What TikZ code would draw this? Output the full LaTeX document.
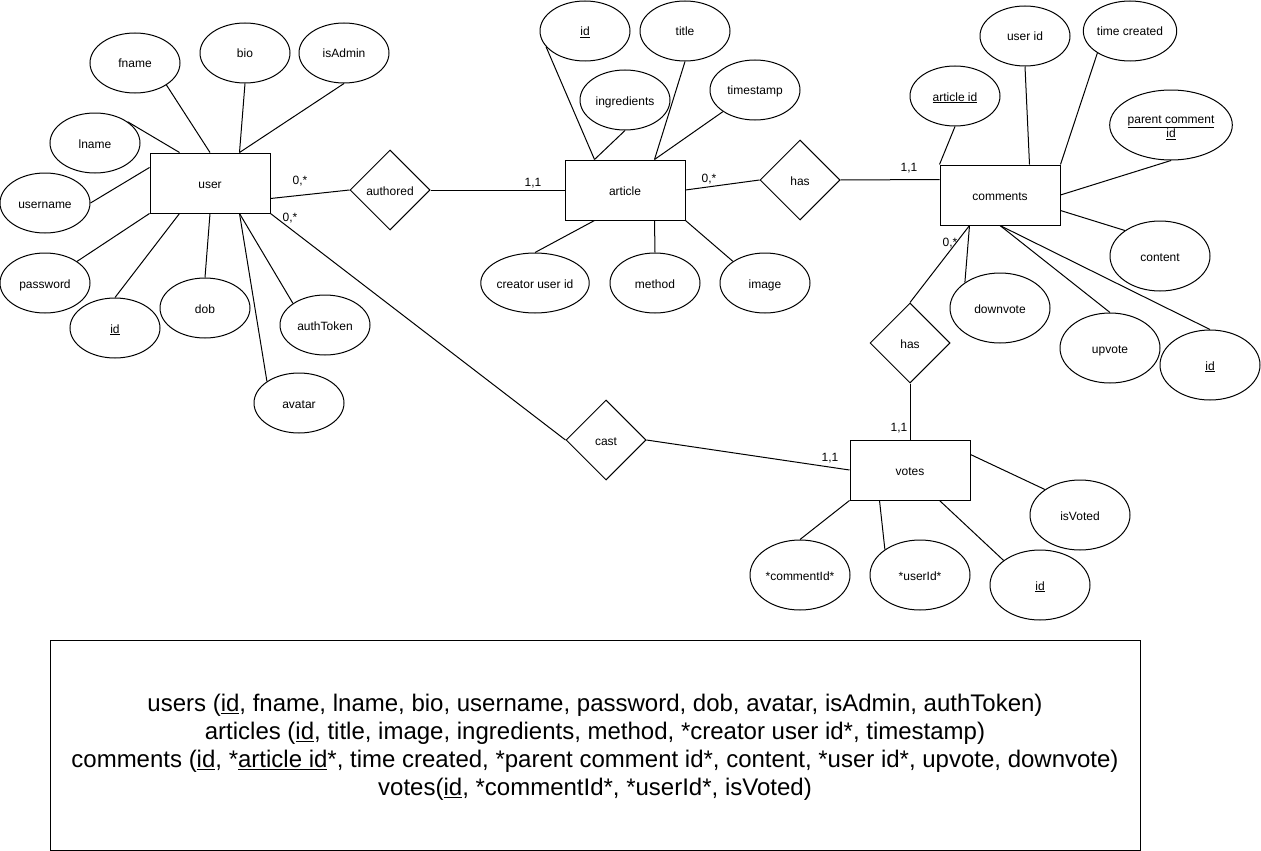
\documentclass[tikz,border=0pt]{standalone}
\usepackage{fontspec}
\setmainfont{Liberation Sans}
\usetikzlibrary{shapes.geometric,calc}
\begin{document}
\begin{tikzpicture}[x=1pt,y=-1pt,line width=1pt,
  txt/.style={font=\fontsize{12}{14}\selectfont,text height=12.8pt,text depth=2.8pt},
  ent/.style={draw,rectangle,minimum width=120pt,minimum height=60pt,inner sep=0pt,txt},
  attr/.style={draw,ellipse,minimum width=90pt,minimum height=60pt,inner sep=0pt,txt},
  bigattr/.style={attr,minimum width=100pt,minimum height=70pt},
  rel/.style={draw,diamond,aspect=1,minimum width=80pt,minimum height=80pt,inner sep=0pt,txt},
  card/.style={inner sep=0pt,txt}]
\useasboundingbox (0,0) rectangle (1261,851);

% user
\node[ent] (user) at (210,183) {user};
\node[attr] (fname) at (135,63) {fname};
\node[attr] (bio) at (245,53) {bio};
\node[attr] (isadmin) at (344,53) {isAdmin};
\node[attr] (lname) at (95,143) {lname};
\node[attr] (username) at (45,203) {username};
\node[attr] (password) at (45,283) {password};
\node[attr] (uid) at (115,328) {\underline{id}};
\node[attr] (dob) at (205,308) {dob};
\node[attr] (authtoken) at (325,325) {authToken};
\node[attr] (avatar) at (299,403) {avatar};

% article
\node[rel] (authored) at (390,190) {authored};
\node[ent] (article) at (625,190) {article};
\node[attr] (aid) at (585,31) {\underline{id}};
\node[attr] (title) at (685,31) {title};
\node[attr] (ingredients) at (625,100) {ingredients};
\node[attr] (timestamp) at (755,90) {timestamp};
\node[attr] (creator) at (535,283) {creator user id};
\node[attr] (method) at (655,283) {method};
\node[attr] (image) at (765,283) {image};

% comments
\node[rel] (has1) at (800,180) {has};
\node[ent] (comments) at (1000,195) {comments};
\node[attr] (cuser) at (1025,36) {user id};
\node[attr] (ctime) at (1130,31) {time created};
\node[attr] (carticle) at (955,96) {\underline{article id}};
\node[bigattr,text height=,text depth=,align=center] (cparent) at (1171,125)
  {\underline{parent comment}\\[0.5pt]\underline{id}\\[-17pt]};
\node[bigattr] (ccontent) at (1160,256) {content};
\node[bigattr] (cdown) at (1000,308) {downvote};
\node[bigattr] (cup) at (1110,348) {upvote};
\node[bigattr] (cid) at (1210,365) {\underline{id}};

% votes
\node[rel] (has2) at (910,343) {has};
\node[ent] (votes) at (910,470) {votes};
\node[rel] (cast) at (606,440) {cast};
\node[bigattr] (vcomment) at (800,575) {*commentId*};
\node[bigattr] (vuser) at (920,575) {*userId*};
\node[bigattr] (vid) at (1040,585) {\underline{id}};
\node[bigattr] (visvoted) at (1080,515) {isVoted};

% user connectors
\draw (fname.325) -- (user.north);
\draw (bio.south) -- ($(user.north west)+(90,0)$);
\draw (isadmin.south) -- ($(user.north west)+(90,0)$);
\draw (lname.33) -- ($(user.north west)+(30,0)$);
\draw (username.east) -- ($(user.north west)+(0,15)$);
\draw (password.34) -- (user.south west);
\draw (uid.north) -- ($(user.south west)+(30,0)$);
\draw (dob.north) -- (user.south);
\draw (avatar.146) -- ($(user.south west)+(90,0)$);
\draw (authtoken.146) -- ($(user.south west)+(90,0)$);
\draw ($(user.south east)+(0,-15)$) -- (authored.west);
\draw (user.south east) -- (cast.west);

% article connectors
\draw (authored.east) -- (article.west);
\draw (aid.202) -- ($(article.north west)+(30,0)$);
\draw (ingredients.south) -- ($(article.north west)+(30,0)$);
\draw (title.south) -- ($(article.north west)+(90,0)$);
\draw (timestamp.214) -- ($(article.north west)+(90,0)$);
\draw (creator.north) -- ($(article.south west)+(30,0)$);
\draw (method.north) -- ($(article.south west)+(90,0)$);
\draw (image.146) -- (article.south east);
\draw (article.east) -- (has1.west);

% comments connectors
\draw (has1.east) -- ($(comments.north west)+(0,15)$);
\draw (carticle.south) -- (comments.north west);
\draw (cuser.south) -- ($(comments.north west)+(90,0)$);
\draw (ctime.214) -- (comments.north east);
\draw (cparent.south) -- (comments.east);
\draw (ccontent.144) -- ($(comments.south east)+(0,-15)$);
\draw (cdown.144) -- ($(comments.south west)+(30,0)$);
\draw (cup.north) -- (comments.south);
\draw (cid.north) -- (comments.south);
\draw ($(comments.south west)+(30,0)$) -- (has2.north);
\draw (has2.south) -- (votes.north);

% votes connectors
\draw (cast.east) -- (votes.west);
\draw (vcomment.north) -- (votes.south west);
\draw (vuser.144) -- ($(votes.south west)+(30,0)$);
\draw (vid.146) -- ($(votes.south west)+(90,0)$);
\draw (visvoted.144) -- ($(votes.north east)+(0,15)$);

% cardinalities
\node[card] (k1) at (300,179) {0,*};
\node[card] (k2) at (290,216) {0,*};
\node[card] (k3) at (533,181) {1,1};
\node[card] (k4) at (709,177) {0,*};
\node[card] (k5) at (909,166) {1,1};
\node[card] (k6) at (950,241) {0,*};
\node[card] (k7) at (899,426) {1,1};
\node[card] (k8) at (830,456) {1,1};

% relational schema
\node[draw,rectangle,minimum width=1090pt,minimum height=210pt,inner sep=0pt] (schema) at (595,745) {};
\node[inner sep=0pt,align=center,font=\fontsize{24}{28}\selectfont] (schematext) at ($(schema.center)+(0,2)$)
 {users (\underline{id}, fname, lname, bio, username, password, dob, avatar, isAdmin, authToken)\\
  articles (\underline{id}, title, image, ingredients, method, *creator user id*, timestamp)\\
  comments (\underline{id}, *\underline{article id}*, time created, *parent comment id*, content, *user id*, upvote, downvote)\\
  votes(\underline{id}, *commentId*, *userId*, isVoted)};
\end{tikzpicture}
\end{document}
